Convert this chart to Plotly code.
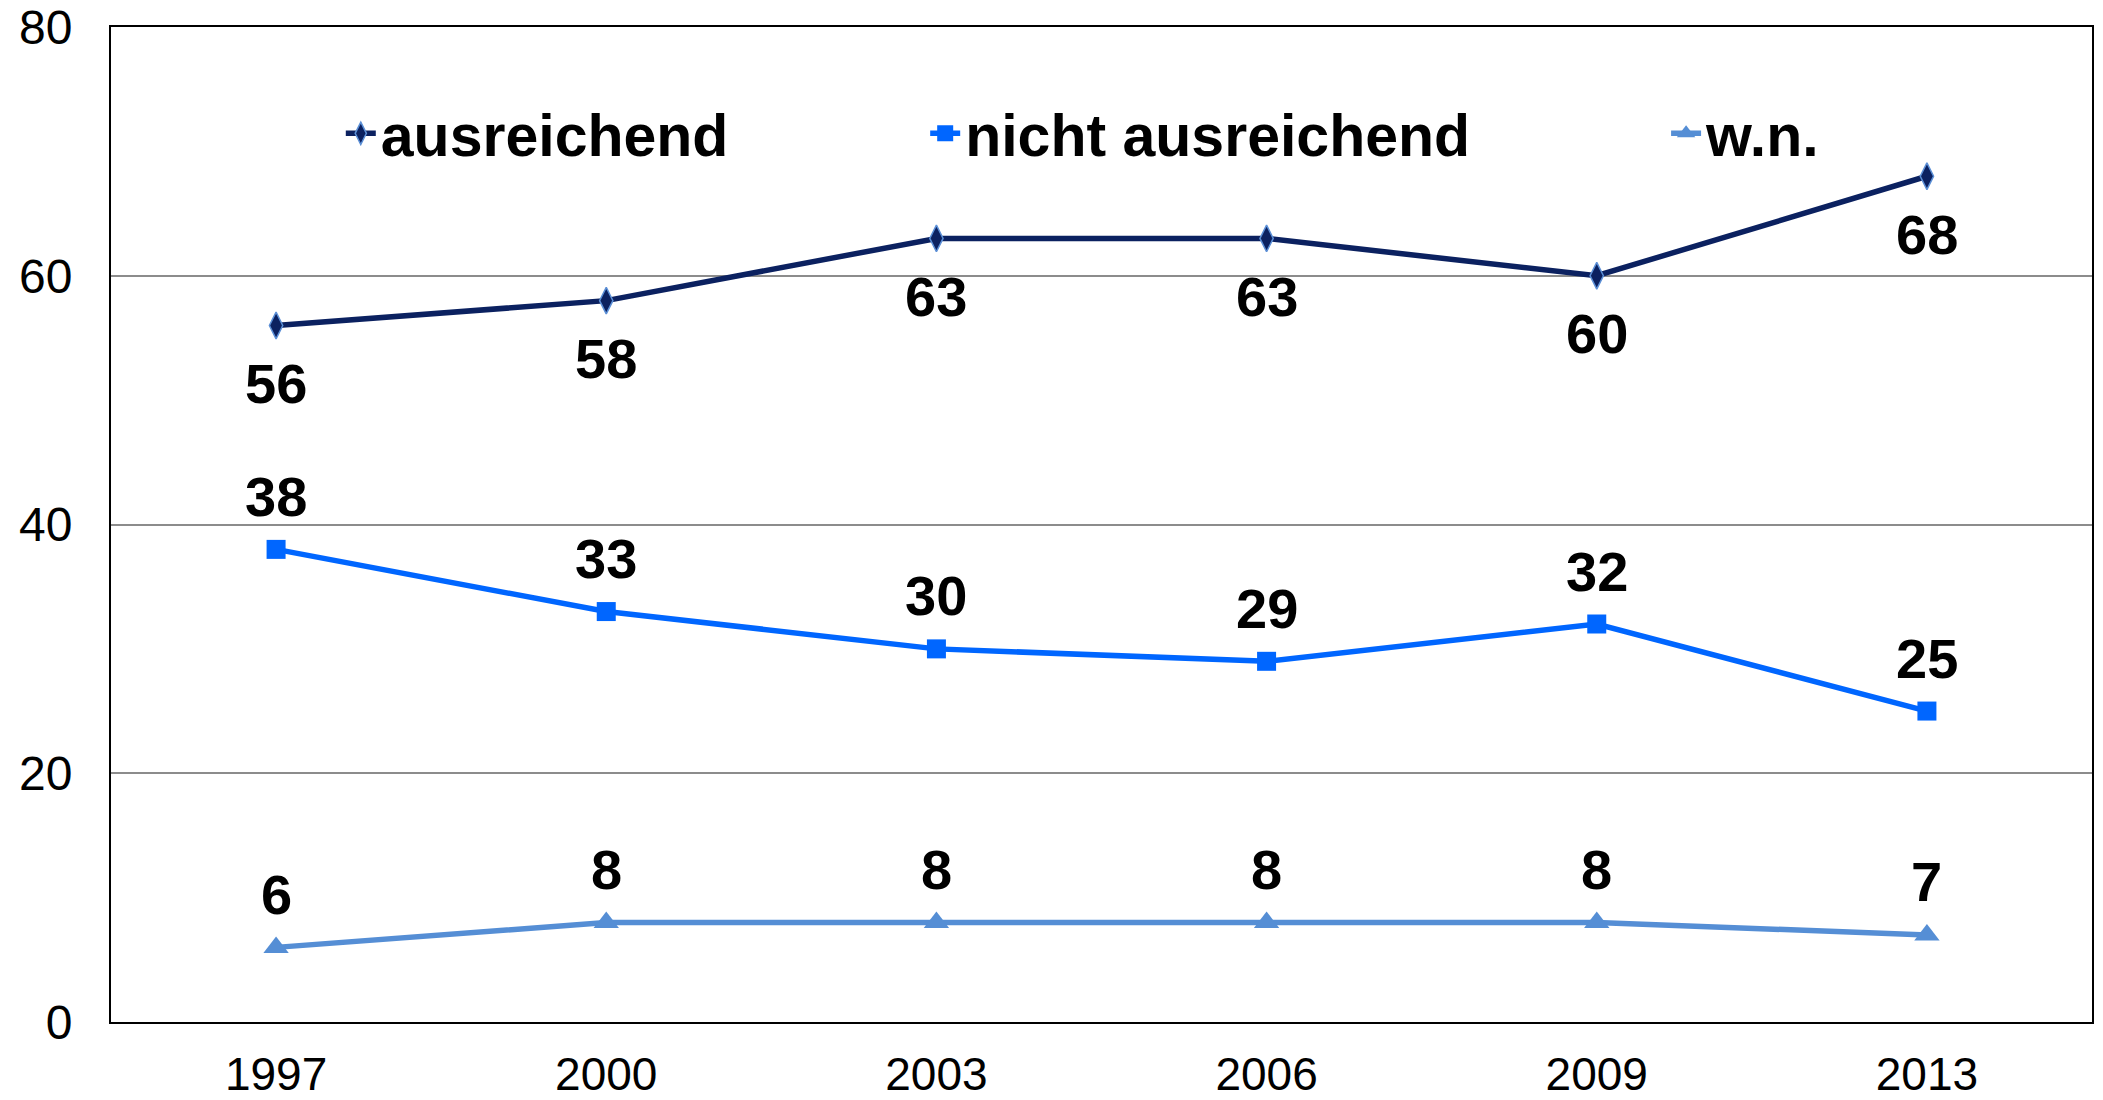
import plotly.graph_objects as go

### ==== DATEN ==== ###
jahre = ['1997', '2000', '2003', '2006', '2009', '2013']
ausreichend = [56, 58, 63, 63, 60, 68]
nicht_ausreichend = [38, 33, 30, 29, 32, 25]
wn = [6, 8, 8, 8, 8, 7]
y_ticks = [0, 20, 40, 60, 80]

FONT = 'Liberation Sans, Arial, sans-serif'

fig = go.Figure()

# serien: name, werte, farbe, marker, legende, label-verschiebung (px)
serien = [
    ('ausreichend', ausreichend, '#0B2160', dict(symbol='diamond-tall', size=19, color='#0B2160',
                                                  line=dict(color='#5B8FD6', width=1.5)), 'legend', -58),
    ('nicht ausreichend', nicht_ausreichend, '#0066FF', dict(symbol='square', size=19, color='#0066FF'), 'legend2', 53),
    ('w.n.', wn, '#558ED5', dict(symbol='triangle-up', size=22, color='#558ED5'), 'legend3', 53),
]

for name, werte, farbe, marker, leg, shift in serien:
    fig.add_trace(go.Scatter(x=jahre, y=werte, name=f'<b>{name}</b>', mode='lines+markers',
                             line=dict(color=farbe, width=5.5), marker=marker, legend=leg))
    # kategorie-achse: annotationen über den index positionieren
    for i, y in enumerate(werte):
        fig.add_annotation(x=i, y=y, text=f'<b>{y}</b>', showarrow=False, yshift=shift,
                           yanchor='middle', font=dict(family=FONT, size=56, color='black'))

leg_font = dict(family=FONT, size=59, color='black')
leg_common = dict(orientation='h', yanchor='middle', xanchor='left', font=leg_font,
                  bgcolor='rgba(0,0,0,0)')

fig.update_layout(
    width=2103, height=1100,
    showlegend=True,
    plot_bgcolor='white', paper_bgcolor='white',
    margin=dict(l=111, r=11, t=27, b=78, autoexpand=False),
    font=dict(family=FONT, color='black'),
    legend=dict(x=0.116, y=0.893, **leg_common),
    legend2=dict(x=0.411, y=0.893, **leg_common),
    legend3=dict(x=0.785, y=0.893, **leg_common),
    xaxis=dict(
        type='category',
        range=[-0.5, len(jahre) - 0.5],
        showline=True, mirror=True, linecolor='black', linewidth=2,
        showgrid=False, ticks='',
        tickfont=dict(family=FONT, size=46, color='black'),
        ticklabelstandoff=11,
    ),
    yaxis=dict(
        range=[0, 80],
        tickvals=y_ticks,
        showline=True, mirror=True, linecolor='black', linewidth=2,
        showgrid=True, gridcolor='#8C8C8C', gridwidth=1.5,
        zeroline=False, ticks='',
        tickfont=dict(family=FONT, size=48, color='black'),
        ticklabelstandoff=27,
    ),
)

fig.write_html('out.html', config={'displayModeBar': False},
               post_script="document.body.style.margin='0';")
